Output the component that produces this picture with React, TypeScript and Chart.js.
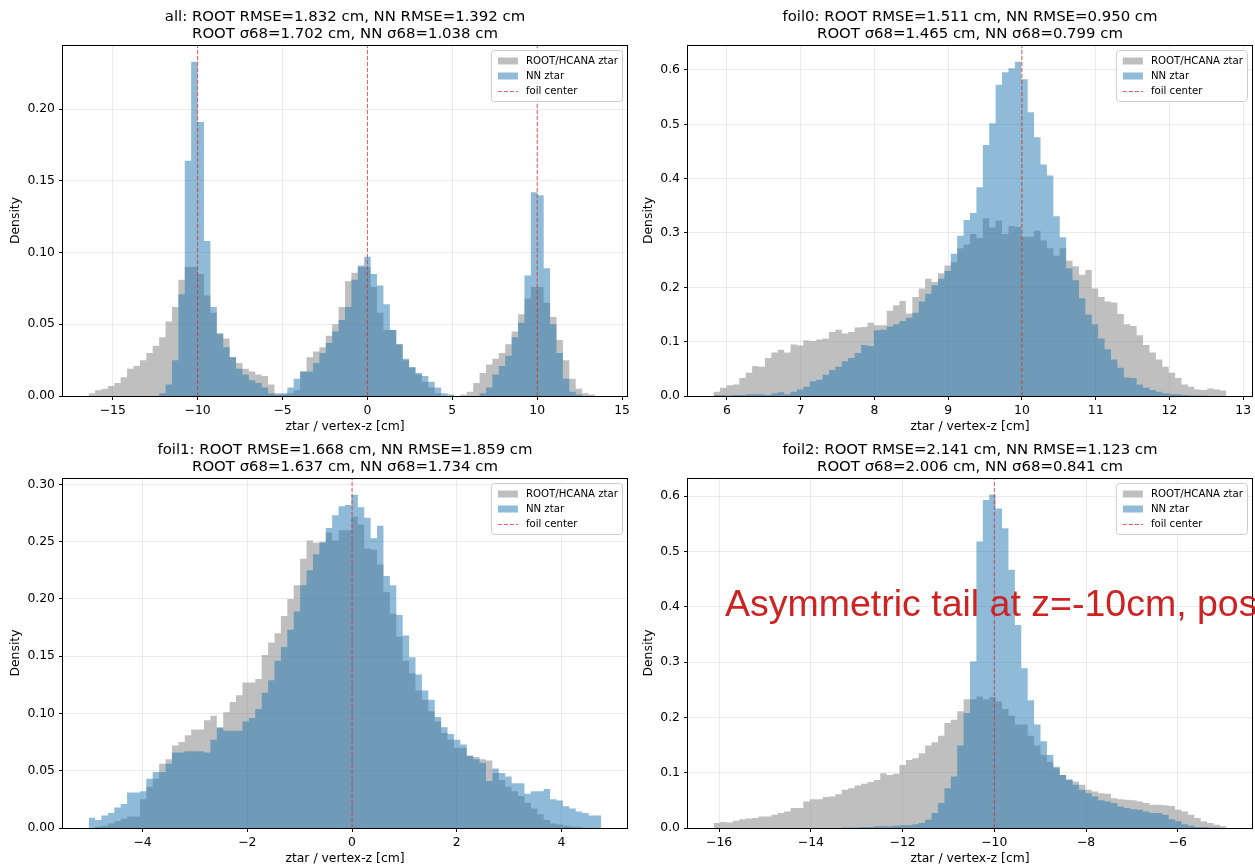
import React, { useEffect, useRef } from 'react';
import { Chart, registerables } from 'chart.js';

Chart.register(...registerables);

const FONT = '"DejaVu Sans", "Liberation Sans", sans-serif';

// ---------- shared labels ----------
const legendLabels = ['ROOT/HCANA ztar', 'NN ztar', 'foil center'];
const xAxisLabel = 'ztar / vertex-z [cm]';
const yAxisLabel = 'Density';
const overlayText = 'Asymmetric tail at z=-10cm, pos';

// ---------- panel: all ----------
const allBinStart = -16.42;
const allBinWidth = 0.3775;
const allRoot = [
  0.002, 0.004, 0.005, 0.007, 0.009, 0.013, 0.019, 0.021, 0.025, 0.030,
  0.035, 0.041, 0.052, 0.062, 0.081, 0.090, 0.090, 0.085, 0.070, 0.058,
  0.044, 0.040, 0.027, 0.023, 0.019, 0.017, 0.015, 0.014, 0.008, 0.002,
  0.001, 0.002, 0.004, 0.017, 0.027, 0.031, 0.034, 0.042, 0.050, 0.062,
  0.080, 0.086, 0.090, 0.090, 0.076, 0.058, 0.046, 0.046, 0.036, 0.025,
  0.020, 0.015, 0.010, 0.006, 0.002, 0.000, 0.000, 0.000, 0.001, 0.003,
  0.009, 0.016, 0.022, 0.026, 0.030, 0.036, 0.045, 0.057, 0.068, 0.076,
  0.076, 0.065, 0.055, 0.039, 0.025, 0.012, 0.005, 0.002, 0.001, 0.000,
];
const allNN = [
  0, 0, 0, 0, 0, 0, 0, 0, 0, 0,
  0.000, 0.002, 0.008, 0.025, 0.071, 0.164, 0.233, 0.191, 0.108, 0.062,
  0.043, 0.034, 0.027, 0.019, 0.015, 0.011, 0.009, 0.006, 0.002, 0.001,
  0.002, 0.006, 0.012, 0.017, 0.017, 0.023, 0.030, 0.037, 0.045, 0.053,
  0.062, 0.081, 0.091, 0.097, 0.085, 0.077, 0.064, 0.046, 0.036, 0.026,
  0.020, 0.016, 0.014, 0.010, 0.006, 0.002, 0.001, 0.000, 0.000, 0.000,
  0.000, 0.002, 0.006, 0.015, 0.021, 0.028, 0.041, 0.051, 0.084, 0.142,
  0.140, 0.089, 0.050, 0.030, 0.012, 0.003, 0.001, 0.000, 0.000, 0.000,
];
const allFoilCenters = [-10, 0, 10];
const allXTicks = [-15, -10, -5, 0, 5, 10, 15];
const allYTicks = [0, 0.05, 0.1, 0.15, 0.2];
const allTitle = ['all: ROOT RMSE=1.832 cm, NN RMSE=1.392 cm', 'ROOT σ68=1.702 cm, NN σ68=1.038 cm'];

// ---------- panel: foil0 ----------
const foil0BinStart = 5.82;
const foil0BinWidth = 0.0869;
const foil0Root = [
  0.008, 0.015, 0.020, 0.021, 0.033, 0.043, 0.055, 0.054, 0.070, 0.080,
  0.085, 0.080, 0.095, 0.093, 0.102, 0.101, 0.104, 0.106, 0.118, 0.122,
  0.115, 0.118, 0.126, 0.127, 0.135, 0.130, 0.130, 0.157, 0.167, 0.175,
  0.152, 0.182, 0.198, 0.216, 0.210, 0.226, 0.240, 0.246, 0.272, 0.279,
  0.298, 0.291, 0.327, 0.310, 0.323, 0.298, 0.313, 0.311, 0.293, 0.293,
  0.304, 0.286, 0.272, 0.258, 0.272, 0.249, 0.239, 0.223, 0.232, 0.198,
  0.182, 0.174, 0.172, 0.151, 0.132, 0.129, 0.112, 0.094, 0.080, 0.067,
  0.054, 0.043, 0.033, 0.021, 0.017, 0.012, 0.011, 0.014, 0.012, 0.010,
];
const foil0NN = [
  0.002, 0.002, 0.001, 0.002, 0.002, 0.003, 0.003, 0.003, 0.002, 0.005,
  0.007, 0.003, 0.008, 0.012, 0.017, 0.027, 0.030, 0.039, 0.048, 0.054,
  0.064, 0.070, 0.079, 0.094, 0.092, 0.121, 0.122, 0.128, 0.132, 0.138,
  0.144, 0.153, 0.174, 0.188, 0.204, 0.216, 0.230, 0.262, 0.295, 0.324,
  0.337, 0.384, 0.462, 0.502, 0.573, 0.596, 0.603, 0.615, 0.583, 0.522,
  0.476, 0.426, 0.406, 0.331, 0.292, 0.235, 0.213, 0.180, 0.150, 0.132,
  0.106, 0.086, 0.067, 0.052, 0.034, 0.033, 0.021, 0.015, 0.011, 0.008,
  0.005, 0.003, 0.003, 0.002, 0.001, 0.001, 0.001, 0.000, 0.000, 0.000,
];
const foil0FoilCenters = [10];
const foil0XTicks = [6, 7, 8, 9, 10, 11, 12, 13];
const foil0YTicks = [0, 0.1, 0.2, 0.3, 0.4, 0.5, 0.6];
const foil0Title = ['foil0: ROOT RMSE=1.511 cm, NN RMSE=0.950 cm', 'ROOT σ68=1.465 cm, NN σ68=0.799 cm'];

// ---------- panel: foil1 ----------
const foil1BinStart = -5.03;
const foil1BinWidth = 0.1224;
const foil1Root = [
  0.000, 0.001, 0.002, 0.004, 0.006, 0.008, 0.010, 0.010, 0.025, 0.036,
  0.043, 0.056, 0.060, 0.072, 0.075, 0.081, 0.086, 0.086, 0.094, 0.098,
  0.087, 0.101, 0.110, 0.116, 0.127, 0.127, 0.130, 0.151, 0.162, 0.170,
  0.185, 0.200, 0.212, 0.235, 0.251, 0.249, 0.250, 0.258, 0.251, 0.260,
  0.260, 0.272, 0.265, 0.244, 0.243, 0.230, 0.206, 0.187, 0.167, 0.146,
  0.135, 0.120, 0.112, 0.102, 0.093, 0.083, 0.077, 0.070, 0.070, 0.063,
  0.062, 0.060, 0.059, 0.048, 0.042, 0.036, 0.032, 0.028, 0.022, 0.017,
  0.012, 0.007, 0.004, 0.003, 0.002, 0.001, 0.001, 0.000, 0.000, 0.000,
];
const foil1NN = [
  0.009, 0.007, 0.011, 0.013, 0.018, 0.021, 0.031, 0.031, 0.032, 0.043,
  0.049, 0.049, 0.056, 0.066, 0.066, 0.067, 0.067, 0.067, 0.066, 0.077,
  0.088, 0.085, 0.085, 0.085, 0.093, 0.096, 0.104, 0.118, 0.129, 0.146,
  0.158, 0.173, 0.189, 0.212, 0.225, 0.239, 0.249, 0.262, 0.273, 0.281,
  0.282, 0.291, 0.280, 0.271, 0.253, 0.264, 0.220, 0.212, 0.186, 0.168,
  0.149, 0.134, 0.120, 0.112, 0.097, 0.088, 0.082, 0.077, 0.073, 0.063,
  0.060, 0.057, 0.041, 0.052, 0.048, 0.045, 0.039, 0.039, 0.030, 0.032,
  0.032, 0.034, 0.025, 0.024, 0.019, 0.017, 0.0145, 0.013, 0.011, 0.011,
];
const foil1FoilCenters = [0];
const foil1XTicks = [-4, -2, 0, 2, 4];
const foil1YTicks = [0, 0.05, 0.1, 0.15, 0.2, 0.25, 0.3];
const foil1Title = ['foil1: ROOT RMSE=1.668 cm, NN RMSE=1.859 cm', 'ROOT σ68=1.637 cm, NN σ68=1.734 cm'];

// ---------- panel: foil2 ----------
const foil2BinStart = -16.12;
const foil2BinWidth = 0.13975;
const foil2Root = [
  0.009, 0.011, 0.010, 0.013, 0.016, 0.017, 0.018, 0.021, 0.021, 0.024,
  0.027, 0.030, 0.036, 0.036, 0.048, 0.052, 0.052, 0.056, 0.057, 0.061,
  0.069, 0.072, 0.077, 0.080, 0.083, 0.087, 0.099, 0.096, 0.098, 0.114,
  0.123, 0.126, 0.135, 0.149, 0.155, 0.167, 0.190, 0.196, 0.211, 0.233,
  0.233, 0.238, 0.233, 0.237, 0.229, 0.215, 0.203, 0.187, 0.187, 0.167,
  0.149, 0.132, 0.120, 0.108, 0.096, 0.088, 0.084, 0.078, 0.069, 0.066,
  0.063, 0.062, 0.054, 0.052, 0.051, 0.050, 0.048, 0.045, 0.042, 0.042,
  0.041, 0.040, 0.033, 0.030, 0.024, 0.018, 0.012, 0.009, 0.006, 0.003,
];
const foil2NN = [
  0, 0, 0, 0, 0, 0, 0, 0, 0, 0,
  0, 0, 0, 0, 0, 0, 0, 0, 0, 0,
  0.001, 0.001, 0.001, 0.002, 0.002, 0.003, 0.003, 0.003, 0.004, 0.005,
  0.005, 0.007, 0.009, 0.015, 0.027, 0.045, 0.072, 0.093, 0.149, 0.208,
  0.301, 0.518, 0.593, 0.603, 0.578, 0.542, 0.467, 0.367, 0.289, 0.231,
  0.187, 0.157, 0.132, 0.111, 0.096, 0.087, 0.078, 0.069, 0.063, 0.057,
  0.050, 0.048, 0.045, 0.039, 0.036, 0.034, 0.033, 0.030, 0.027, 0.027,
  0.024, 0.016, 0.012, 0.007, 0.004, 0.002, 0.002, 0.001, 0.001, 0.000,
];
const foil2FoilCenters = [-10];
const foil2XTicks = [-16, -14, -12, -10, -8, -6];
const foil2YTicks = [0, 0.1, 0.2, 0.3, 0.4, 0.5, 0.6];
const foil2Title = ['foil2: ROOT RMSE=2.141 cm, NN RMSE=1.123 cm', 'ROOT σ68=2.006 cm, NN σ68=0.841 cm'];

// ---------- styling ----------
const ROOT_COLOR = 'rgba(128,128,128,0.5)';
const NN_COLOR = 'rgba(31,119,180,0.5)';
const LINE_COLOR = 'rgba(222,40,40,0.75)';
const GRID_COLOR = 'rgba(176,176,176,0.25)';

type Spec = {
  key: string;
  left: number; top: number; w: number; h: number;
  yAxisW: number; xAxisH: number; padTop: number; padRight: number;
  xMin: number; xMax: number; yMax: number; yDec: number;
  binStart: number; binWidth: number;
  root: number[]; nn: number[]; centers: number[];
  xTicks: number[]; yTicks: number[]; title: string[];
};

function withMargins(start: number, width: number, n: number) {
  const end = start + width * n;
  const m = 0.05 * (end - start);
  return [start - m, end + m];
}

const specs: Spec[] = [
  { key: 'all', left: 0, top: 0, w: 640, h: 434, yAxisW: 63, xAxisH: 38, padTop: 45, padRight: 13,
    xMin: 0, xMax: 0, yMax: 0.2447, yDec: 2, binStart: allBinStart, binWidth: allBinWidth,
    root: allRoot, nn: allNN, centers: allFoilCenters, xTicks: allXTicks, yTicks: allYTicks, title: allTitle },
  { key: 'foil0', left: 640, top: 0, w: 615, h: 434, yAxisW: 48, xAxisH: 38, padTop: 45, padRight: 3,
    xMin: 0, xMax: 0, yMax: 0.646, yDec: 1, binStart: foil0BinStart, binWidth: foil0BinWidth,
    root: foil0Root, nn: foil0NN, centers: foil0FoilCenters, xTicks: foil0XTicks, yTicks: foil0YTicks, title: foil0Title },
  { key: 'foil1', left: 0, top: 434, w: 640, h: 434, yAxisW: 63, xAxisH: 40, padTop: 44, padRight: 13,
    xMin: 0, xMax: 0, yMax: 0.3056, yDec: 2, binStart: foil1BinStart, binWidth: foil1BinWidth,
    root: foil1Root, nn: foil1NN, centers: foil1FoilCenters, xTicks: foil1XTicks, yTicks: foil1YTicks, title: foil1Title },
  { key: 'foil2', left: 640, top: 434, w: 615, h: 434, yAxisW: 48, xAxisH: 40, padTop: 44, padRight: 3,
    xMin: 0, xMax: 0, yMax: 0.633, yDec: 1, binStart: foil2BinStart, binWidth: foil2BinWidth,
    root: foil2Root, nn: foil2NN, centers: foil2FoilCenters, xTicks: foil2XTicks, yTicks: foil2YTicks, title: foil2Title },
].map((s) => {
  const [a, b] = withMargins(s.binStart, s.binWidth, s.root.length);
  return { ...s, xMin: a, xMax: b };
});

function fmtX(v: number) {
  const r = Math.round(v * 1000) / 1000;
  return r < 0 ? '\u2212' + String(Math.abs(r)) : String(r);
}

// histogram as a filled step outline: one point per bin centre, plus the outer bin edges
function histPoints(start: number, width: number, values: number[]) {
  const pts: { x: number; y: number }[] = [{ x: start, y: values[0] }];
  values.forEach((v, i) => pts.push({ x: start + width * (i + 0.5), y: v }));
  pts.push({ x: start + width * values.length, y: values[values.length - 1] });
  return pts;
}

function makeDecor(spec: Spec) {
  return {
    id: 'decor_' + spec.key,
    afterDraw(chart: any) {
      const ctx = chart.ctx as CanvasRenderingContext2D;
      const a = chart.chartArea;
      ctx.save();
      // spines
      ctx.strokeStyle = '#000';
      ctx.lineWidth = 1;
      ctx.strokeRect(Math.round(a.left) - 0.5, Math.round(a.top) + 0.5, Math.round(a.right - a.left) + 1, Math.round(a.bottom - a.top));

      // legend
      const fs = 10.2;
      ctx.font = `${fs}px ${FONT}`;
      const tw = Math.max(...legendLabels.map((t) => ctx.measureText(t).width));
      const pad = 4;
      const handle = 20;
      const gap = 8;
      const rowH = 15;
      const boxW = pad + handle + gap + tw + pad + 3;
      const boxH = pad * 2 + rowH * 3 - 2;
      const bx = a.right - 5 - boxW;
      const by = a.top + 5;
      ctx.beginPath();
      if ((ctx as any).roundRect) (ctx as any).roundRect(bx + 0.5, by + 0.5, boxW, boxH, 3);
      else ctx.rect(bx + 0.5, by + 0.5, boxW, boxH);
      ctx.fillStyle = 'rgba(255,255,255,0.8)';
      ctx.fill();
      ctx.strokeStyle = '#cccccc';
      ctx.lineWidth = 1;
      ctx.stroke();
      const hx = bx + pad + 3;
      legendLabels.forEach((lab, i) => {
        const cy = by + pad + 7 + rowH * i;
        if (i === 0 || i === 1) {
          ctx.fillStyle = i === 0 ? ROOT_COLOR : NN_COLOR;
          ctx.fillRect(hx, cy - 3.5, handle, 7);
        } else {
          ctx.strokeStyle = LINE_COLOR;
          ctx.lineWidth = 1;
          ctx.setLineDash([4, 2]);
          ctx.beginPath();
          ctx.moveTo(hx, cy + 0.5);
          ctx.lineTo(hx + handle, cy + 0.5);
          ctx.stroke();
          ctx.setLineDash([]);
        }
        ctx.fillStyle = '#000';
        ctx.textAlign = 'left';
        ctx.textBaseline = 'middle';
        ctx.fillText(lab, hx + handle + gap, cy);
      });

      // titles
      const cx = (a.left + a.right) / 2;
      ctx.fillStyle = '#000';
      ctx.font = `14.9px ${FONT}`;
      ctx.textAlign = 'center';
      ctx.textBaseline = 'alphabetic';
      ctx.fillText(spec.title[1], cx, a.top - 7.5);
      ctx.fillText(spec.title[0], cx, a.top - 24.5);

      // axis labels
      ctx.font = `12.4px ${FONT}`;
      ctx.fillText(xAxisLabel, cx, a.bottom + 34);
      const tickW = Math.max(...spec.yTicks.map((v) => ctx.measureText(v.toFixed(spec.yDec)).width));
      const lx = a.left - 8 - tickW - 5;
      ctx.save();
      ctx.translate(lx, (a.top + a.bottom) / 2);
      ctx.rotate(-Math.PI / 2);
      ctx.textAlign = 'center';
      ctx.textBaseline = 'bottom';
      ctx.fillText(yAxisLabel, 0, 0);
      ctx.restore();
      ctx.restore();
    },
  };
}

function Panel({ spec }: { spec: Spec }) {
  const ref = useRef<HTMLCanvasElement | null>(null);
  useEffect(() => {
    if (!ref.current) return;
    const lineData: any[] = [];
    spec.centers.forEach((c) => {
      lineData.push({ x: c, y: 0 }, { x: c, y: spec.yMax }, { x: c, y: null });
    });
    const histCommon = {
      type: 'line' as const,
      stepped: 'middle',
      fill: 'origin',
      borderWidth: 0,
      borderColor: 'rgba(0,0,0,0)',
      pointRadius: 0,
      tension: 0,
    };
    const chart = new Chart(ref.current, {
      type: 'line',
      data: {
        datasets: [
          {
            type: 'line',
            label: legendLabels[2],
            data: lineData,
            borderColor: LINE_COLOR,
            borderWidth: 1,
            borderDash: [4, 2],
            pointRadius: 0,
            spanGaps: false,
            fill: false,
            order: 0,
          } as any,
          {
            ...histCommon,
            label: legendLabels[1],
            data: histPoints(spec.binStart, spec.binWidth, spec.nn),
            backgroundColor: NN_COLOR,
            order: 1,
          } as any,
          {
            ...histCommon,
            label: legendLabels[0],
            data: histPoints(spec.binStart, spec.binWidth, spec.root),
            backgroundColor: ROOT_COLOR,
            order: 2,
          } as any,
        ],
      },
      options: {
        animation: false,
        responsive: false,
        maintainAspectRatio: false,
        devicePixelRatio: 1,
        events: [],
        layout: { padding: { left: 0, right: spec.padRight, top: spec.padTop, bottom: 0 } },
        plugins: {
          legend: { display: false },
          tooltip: { enabled: false },
          title: { display: false },
        },
        scales: {
          x: {
            type: 'linear',
            min: spec.xMin,
            max: spec.xMax,
            offset: false,
            afterFit: (s: any) => { s.height = spec.xAxisH; },
            afterBuildTicks: (s: any) => { s.ticks = spec.xTicks.map((v) => ({ value: v })); },
            ticks: {
              callback: (v: any) => fmtX(Number(v)),
              font: { family: FONT, size: 12.4 },
              color: '#000',
              padding: 3,
              maxRotation: 0,
              autoSkip: false,
            },
            grid: { color: GRID_COLOR, lineWidth: 1, tickColor: '#000', tickLength: 4, offset: false },
            border: { display: false },
          },
          y: {
            type: 'linear',
            min: 0,
            max: spec.yMax,
            afterFit: (s: any) => { s.width = spec.yAxisW; },
            afterBuildTicks: (s: any) => { s.ticks = spec.yTicks.map((v) => ({ value: v })); },
            ticks: {
              callback: (v: any) => Number(v).toFixed(spec.yDec),
              font: { family: FONT, size: 12.4 },
              color: '#000',
              padding: 4,
              autoSkip: false,
            },
            grid: { color: GRID_COLOR, lineWidth: 1, tickColor: '#000', tickLength: 4 },
            border: { display: false },
          },
        },
      } as any,
      plugins: [makeDecor(spec)],
    });
    return () => chart.destroy();
  }, [spec]);
  return (
    <canvas
      ref={ref}
      width={spec.w}
      height={spec.h}
      style={{ position: 'absolute', left: spec.left, top: spec.top, width: spec.w, height: spec.h }}
    />
  );
}

export default function App() {
  return (
    <div
      style={{
        position: 'absolute', left: 0, top: 0, width: 1255, height: 868,
        overflow: 'hidden', background: '#ffffff',
      }}
    >
      {specs.map((s) => (
        <Panel key={s.key} spec={s} />
      ))}
      <div
        style={{
          position: 'absolute', left: 725, top: 585,
          font: '37.5px "Liberation Sans", Arial, sans-serif', lineHeight: '37.5px',
          color: 'rgb(205,35,35)', whiteSpace: 'nowrap',
        }}
      >
        {overlayText}
      </div>
    </div>
  );
}
